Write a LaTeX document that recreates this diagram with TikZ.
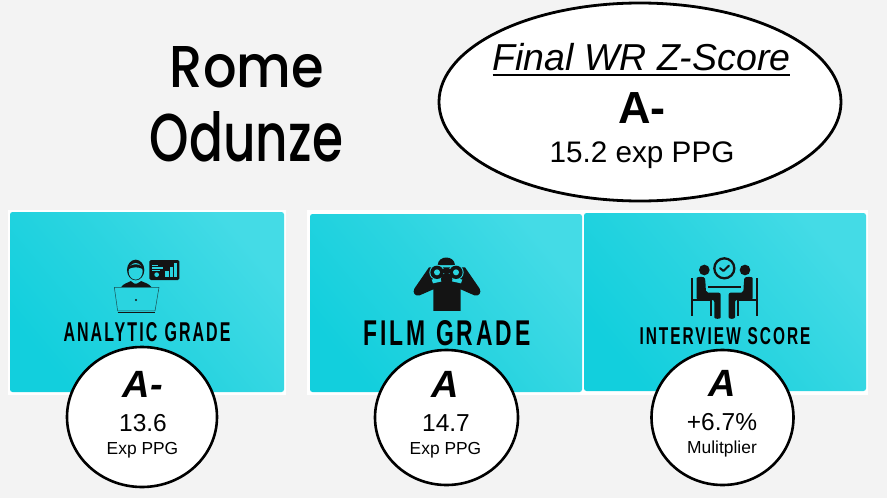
\documentclass[tikz,border=0pt]{standalone}
\usepackage{graphicx}
\usepackage{fontspec}
\usetikzlibrary{shapes.geometric}
\setmainfont{Liberation Sans}
\newfontfamily\titlefont[UprightFont=* Medium]{Poppins}
\newfontfamily\labelfont[LetterSpace=13,Ligatures=NoCommon]{Liberation Sans Bold}
\newcommand{\fsz}[1]{\fontsize{#1}{#1}\selectfont}
\definecolor{bgcol}{HTML}{F3F3F3}
\definecolor{tealdark}{HTML}{12CFDD}
\definecolor{teallight}{HTML}{44DBE6}
\definecolor{tealmid}{HTML}{2AD4E0}
\definecolor{ink}{HTML}{141414}
\tikzset{
  txt/.style={inner sep=0pt,outer sep=0pt,anchor=base,text=black},
  sized/.style={inner sep=0pt,outer sep=0pt,anchor=south},
  card/.style={rounded corners=2.5pt,bottom color=tealdark,top color=teallight,middle color=tealmid,shading angle=-50},
  mat/.style={fill=white,draw=none},
  badge/.style={ellipse,draw=black,fill=white,line width=2.6pt,inner sep=0pt},
}
\begin{document}
\begin{tikzpicture}[x=1pt,y=-1pt]
\useasboundingbox (0,0) rectangle (887,498);
\fill[bgcol] (0,0) rectangle (887,498);

% title
\node[sized] (rome) at (247,88) {\resizebox{154pt}{41pt}{\titlefont Rome}};
\node[sized] (odunze) at (246.5,162) {\resizebox{193pt}{50pt}{\titlefont Odunze}};

% final ellipse
\node[badge,line width=2.8pt,minimum width=402pt,minimum height=198pt] (final) at (640,102) {};
\node[txt] (finaltitle) at (641.5,70.7) {\fsz{37.5}\itshape Final WR Z-Score};
\draw[line width=2pt,black] (finaltitle.base west) ++(0,4.3) coordinate (ula) (finaltitle.base east) ++(0,4.3) coordinate (ulb) (ula) -- (ulb);
\node[txt] (finalgrade) at (642,123) {\fsz{45}\bfseries A-};
\node[txt] (finalppg) at (642,162.7) {\fsz{29.7}15.2 exp PPG};

% cards
\fill[mat] (8,210) rectangle (286,395);
\fill[mat] (307,210) rectangle (868,395);
\path[card] (10,212) rectangle (284,392);
\path[card] (310,214) rectangle (582,392);
\path[card] (584,213) rectangle (866,391);

% analytic icon
\begin{scope}[shift={(105,250)},x=0.3333pt,y=-0.3333pt]
  \fill[ink] (48,112) .. controls (55,100) and (70,98) .. (78,93) -- (108,93) .. controls (118,98) and (132,100) .. (140,112) -- cycle;
  \fill[tealmid] (78,93) -- (92,103) -- (108,93) -- (92,88) -- cycle;
  \fill[ink] (88,101) -- (98,101) -- (95,112) -- (91,112) -- cycle;
  \fill[ink] (92,60) ellipse [x radius=26,y radius=31];
  \fill[tealmid] (92,64) ellipse [x radius=21,y radius=25];
  \fill[ink] (70,58) .. controls (72,38) and (112,38) .. (114,58) .. controls (105,50) and (80,50) .. (70,58) -- cycle;
  \fill[tealmid] (30,112) -- (162,112) -- (150,183) -- (38,183) -- cycle;
  \draw[ink!70!tealmid,line width=0.5pt] (28,112) -- (162,112) -- (150,183) -- (38,183) -- cycle;
  \draw[ink,line width=1.5pt] (38,188) -- (150,188);
  \fill[ink] (93,150) circle [radius=3.5];
  \fill[ink,rounded corners=1.5pt] (133,30) rectangle (223,90);
  \fill[tealmid] (181,62) rectangle (191,80);
  \fill[tealmid] (195,52) rectangle (204,80);
  \fill[tealmid] (208,40) rectangle (217,80);
  \fill[tealmid] (141,44) rectangle (158,48);
  \fill[tealmid] (141,52) rectangle (175,56);
  \fill[tealmid] (141,60) rectangle (165,64);
  \fill[tealmid] (155,74) circle [radius=7];
\end{scope}

% binoculars icon
\begin{scope}[shift={(405,250)},x=0.3333pt,y=-0.3333pt]
  \fill[ink] (98,45) .. controls (100,15) and (148,15) .. (150,45) -- cycle;
  \fill[ink] (72,52) -- (28,116) .. controls (22,128) and (30,140) .. (44,136) -- (85,118) -- (85,183) -- (167,183) -- (167,118) -- (208,136) .. controls (222,140) and (230,128) .. (224,116) -- (180,52) -- cycle;
  \fill[tealmid] (96,67) circle [radius=23];
  \fill[tealmid] (153,67) circle [radius=23];
  \fill[tealmid] (80,88) -- (112,86) -- (112,94) -- (84,100) -- cycle;
  \fill[tealmid] (172,88) -- (140,86) -- (140,94) -- (168,100) -- cycle;
  \fill[ink] (125,88) ellipse [x radius=17,y radius=19];
  \fill[ink] (110,58) rectangle (140,68);
  \fill[ink] (96,67) circle [radius=20];
  \fill[ink] (153,67) circle [radius=20];
  \fill[tealmid] (96,67) circle [radius=9];
  \fill[tealmid] (153,67) circle [radius=9];
\end{scope}

% interview icon
\begin{scope}[shift={(685,250)},x=0.3333pt,y=-0.3333pt]
  \draw[ink,line width=2.3pt] (118,55) circle [radius=30];
  \draw[ink,line width=2pt,line cap=round,line join=round] (105,54) -- (115,63) -- (132,47);
  \fill[ink] (70,107) rectangle (168,115);
  \foreach \s in {1,-1} {
    \begin{scope}[shift={(119,0)},xscale=\s]
      \fill[ink] (-61,60) circle [radius=16];
      \fill[ink] (-101,85) rectangle (-95,198);
      \fill[ink] (-96,148) rectangle (-38,154);
      \fill[ink] (-43,150) rectangle (-37,198);
      \fill[ink,rounded corners=2pt] (-84,90) .. controls (-84,80) and (-60,78) .. (-58,92) -- (-56,128) -- (-12,128) -- (-12,196) .. controls (-12,208) and (-31,208) .. (-31,196) -- (-31,150) -- (-84,150) -- cycle;
    \end{scope}
  }
\end{scope}

% labels
\node[sized] (analytic) at (147,342) {\resizebox{167pt}{19pt}{\labelfont ANALYTIC\hspace{0.45em}GRADE}};
\node[sized] (film) at (447,346) {\resizebox{167pt}{25pt}{\labelfont FILM\hspace{0.45em}GRADE}};
\node[sized] (interview) at (725,345) {\resizebox{171pt}{17pt}{\labelfont INTERVIEW\hspace{0.45em}SCORE}};

% badge A
\node[badge,minimum width=150pt,minimum height=140pt] (b1) at (142,417) {};
\node[txt] (b1g) at (143,397) {\fsz{38}\bfseries\itshape A-};
\node[txt] (b1n) at (143,431) {\fsz{24.5}13.6};
\node[txt] (b1u) at (142.5,454) {\fsz{17.4}Exp PPG};

% badge B
\node[badge,minimum width=143pt,minimum height=135pt] (b2) at (446.5,417.5) {};
\node[txt] (b2g) at (445.5,397) {\fsz{38}\bfseries\itshape A};
\node[txt] (b2n) at (446,431) {\fsz{24.5}14.7};
\node[txt] (b2u) at (445.5,454) {\fsz{17.4}Exp PPG};

% badge C
\node[badge,minimum width=142pt,minimum height=135pt] (b3) at (722.5,417.5) {};
\node[txt] (b3g) at (722,396.5) {\fsz{38}\bfseries\itshape A};
\node[txt] (b3n) at (722,430) {\fsz{24.5}+6.7\%};
\node[txt] (b3u) at (722,453) {\fsz{17.4}Mulitplier};
\end{tikzpicture}
\end{document}
